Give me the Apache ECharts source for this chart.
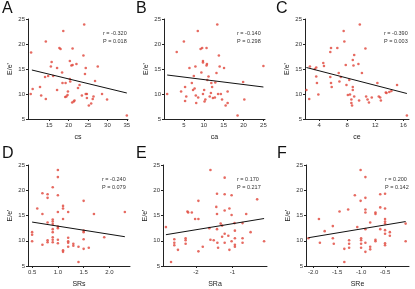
<!DOCTYPE html>
<html>
<head>
<meta charset="utf-8">
<script src="https://cdn.jsdelivr.net/npm/echarts@6/dist/echarts.min.js"></script>
<style>
  html, body { margin: 0; padding: 0; background: #fff; }
  #chart { width: 415px; height: 289px; }
</style>
</head>
<body>
<div id="chart"></div>
<script>
// E/e' against each strain measure, [x, E/e'] per patient
const csPts = [
  [10.3, 18.3], [10.7, 11.0], [10.2, 10.0], [12.6, 11.4], [12.9, 9.7], [14.1, 20.5],
  [14.1, 9.0], [13.9, 13.4], [14.7, 13.6], [15.6, 16.4], [15.4, 15.5], [16.0, 13.6],
  [17.0, 10.8], [17.0, 15.2], [17.6, 19.2], [17.9, 19.0], [18.3, 14.3], [18.4, 12.2],
  [18.6, 22.6], [19.1, 9.4], [19.2, 12.2], [19.4, 9.5], [19.7, 9.8], [19.8, 10.5],
  [20.3, 16.6], [20.3, 13.0], [20.4, 12.5], [20.7, 15.7], [21.0, 15.8], [21.0, 19.1],
  [20.9, 8.3], [21.3, 8.5], [21.5, 8.7], [22.0, 16.0], [22.4, 11.2], [22.8, 11.8],
  [23.4, 9.7], [24.0, 23.9], [23.8, 17.7], [24.2, 14.0], [24.4, 15.2], [24.4, 10.0],
  [24.7, 10.0], [24.7, 9.2], [25.2, 7.7], [25.8, 8.1], [26.2, 9.0], [26.4, 9.5],
  [26.8, 12.6], [27.5, 15.5], [28.6, 10.0], [29.9, 8.9], [35.0, 5.7]
];
const caPts = [
  [0.8, 10.0], [3.2, 18.4], [5.0, 20.5], [4.3, 10.5], [5.3, 11.4], [5.6, 9.5],
  [5.3, 8.6], [6.4, 15.2], [7.0, 12.2], [7.3, 10.8], [7.5, 13.6], [7.7, 11.1],
  [7.9, 15.5], [8.0, 9.7], [8.1, 8.2], [8.5, 22.6], [8.6, 9.3], [9.2, 19.0],
  [9.6, 19.2], [9.4, 14.3], [9.8, 16.6], [9.8, 16.3], [9.8, 10.0], [10.1, 10.8],
  [10.2, 8.5], [10.4, 8.9], [10.7, 19.2], [10.7, 15.7], [10.8, 16.0], [10.9, 12.8],
  [11.2, 13.5], [11.5, 9.5], [11.8, 10.2], [11.9, 12.2], [12.1, 11.4], [12.3, 9.2],
  [12.8, 9.3], [12.9, 12.3], [13.4, 23.9], [13.2, 14.2], [13.6, 10.0], [13.8, 17.7],
  [14.0, 15.5], [14.3, 10.0], [14.6, 8.9], [15.1, 15.2], [15.5, 7.7], [16.0, 8.2],
  [16.0, 10.5], [18.5, 5.7], [19.9, 12.4], [20.2, 8.9], [25.0, 15.6]
];
const cePts = [
  [2.2, 10.8], [2.6, 9.0], [2.7, 15.5], [3.4, 15.0], [3.6, 15.3], [3.6, 13.5],
  [3.7, 12.2], [3.9, 9.9], [4.6, 16.2], [4.7, 15.6], [5.6, 18.4], [5.7, 19.2],
  [5.6, 13.4], [5.7, 12.2], [5.8, 11.4], [6.6, 19.2], [6.8, 14.2], [6.9, 12.5],
  [7.1, 13.4], [7.5, 22.6], [7.6, 20.5], [7.8, 15.8], [7.9, 11.8], [8.1, 9.8],
  [8.3, 12.8], [8.4, 9.9], [8.6, 8.9], [8.6, 8.2], [8.7, 7.7], [8.8, 16.8],
  [8.8, 10.8], [8.8, 11.4], [8.9, 15.7], [9.0, 9.5], [9.0, 17.8], [9.6, 16.0],
  [9.7, 8.7], [9.8, 23.9], [10.1, 14.2], [10.6, 19.1], [10.7, 9.5], [10.9, 8.9],
  [11.1, 8.3], [11.5, 9.3], [12.3, 12.2], [12.5, 9.5], [12.7, 9.3], [12.8, 8.7],
  [13.5, 10.3], [13.6, 10.2], [14.0, 10.4], [14.3, 10.6], [15.1, 11.8], [16.5, 5.7]
];
const srsPts = [
  [0.5, 11.7], [0.5, 11.2], [0.5, 9.9], [0.6, 16.4], [0.7, 19.4], [0.7, 15.3],
  [0.7, 9.2], [0.8, 19.2], [0.8, 18.5], [0.8, 13.6], [0.8, 10.1], [0.8, 9.7],
  [0.9, 20.6], [0.9, 14.2], [0.9, 13.8], [0.9, 13.3], [0.9, 12.3], [0.9, 11.7],
  [0.9, 10.7], [0.9, 10.2], [0.9, 9.7], [1.0, 24.0], [1.0, 22.6], [1.0, 19.0],
  [1.0, 15.7], [1.0, 12.8], [1.0, 12.5], [1.0, 10.2], [1.0, 9.5], [1.1, 16.9],
  [1.1, 16.4], [1.1, 14.3], [1.1, 8.1], [1.1, 7.8], [1.2, 15.7], [1.2, 10.6],
  [1.2, 9.9], [1.2, 9.6], [1.2, 8.8], [1.3, 9.4], [1.3, 9.0], [1.4, 8.8],
  [1.4, 5.8], [1.5, 17.9], [1.5, 12.0], [1.5, 11.7], [1.5, 10.3], [1.5, 8.4],
  [1.6, 8.6], [1.7, 15.3], [1.9, 10.7], [2.3, 15.7]
];
const sraPts = [
  [-2.82, 12.7], [-2.59, 10.3], [-2.59, 9.6], [-2.59, 9.1], [-2.49, 8.2], [-2.68, 5.8],
  [-2.23, 15.8], [-2.21, 15.6], [-2.11, 15.6], [-2.28, 10.5], [-2.28, 10.1], [-2.28, 9.4],
  [-2.02, 14.3], [-1.93, 14.3], [-1.93, 17.9], [-1.93, 7.9], [-1.81, 8.8], [-1.6, 24.0],
  [-1.63, 12.5], [-1.6, 10.2], [-1.51, 10.1], [-1.44, 16.7], [-1.42, 19.3], [-1.42, 15.3],
  [-1.42, 12.3], [-1.41, 9.6], [-1.39, 8.6], [-1.32, 13.4], [-1.28, 13.0], [-1.28, 10.8],
  [-1.21, 22.5], [-1.21, 19.2], [-1.21, 16.0], [-1.21, 11.4], [-1.21, 9.6], [-1.11, 11.0],
  [-1.08, 16.4], [-1.08, 8.2], [-1.02, 19.0], [-1.02, 15.1], [-1.02, 9.9], [-0.94, 13.5],
  [-0.93, 12.0], [-0.93, 10.5], [-0.93, 9.2], [-0.93, 8.8], [-0.72, 13.5], [-0.72, 10.5],
  [-0.72, 9.6], [-0.62, 15.3], [-0.5, 11.7], [-0.32, 18.2], [-0.13, 9.9]
];
const srePts = [
  [-2.1, 10.5], [-1.88, 14.3], [-1.86, 9.6], [-1.76, 11.9], [-1.59, 12.9], [-1.57, 9.4],
  [-1.59, 10.5], [-1.45, 15.8], [-1.35, 8.4], [-1.35, 5.8], [-1.27, 16.2], [-1.25, 10.1],
  [-1.25, 9.4], [-1.25, 8.6], [-1.13, 19.0], [-1.08, 12.7], [-1.01, 24.0], [-1.01, 17.9],
  [-1.0, 10.5], [-1.0, 10.1], [-1.0, 9.4], [-1.0, 8.6], [-0.91, 22.6], [-0.91, 18.5],
  [-0.91, 16.2], [-0.91, 15.6], [-0.91, 12.3], [-0.91, 9.6], [-0.91, 7.8], [-0.81, 13.6],
  [-0.81, 8.8], [-0.81, 8.3], [-0.7, 15.6], [-0.7, 15.3], [-0.7, 10.2], [-0.7, 9.9],
  [-0.6, 19.2], [-0.6, 16.6], [-0.6, 12.3], [-0.5, 19.3], [-0.5, 16.4], [-0.5, 14.3],
  [-0.5, 13.8], [-0.5, 13.4], [-0.5, 12.1], [-0.5, 11.4], [-0.5, 9.5], [-0.5, 9.1],
  [-0.4, 11.7], [-0.4, 11.0], [-0.07, 13.4], [-0.07, 9.9]
];

// fitted line ends
const fitLines = [
  [[10.5, 14.8], [35.0, 10.2]],
  [[0.8, 13.8], [25.0, 11.4]],
  [[2.2, 15.3], [16.5, 10.1]],
  [[0.5, 13.7], [2.3, 10.8]],
  [[-2.82, 11.2], [-0.13, 14.4]],
  [[-2.1, 10.6], [-0.07, 13.8]]
];

const panelLetters = ['A', 'B', 'C', 'D', 'E', 'F'];
const xNames = ['cs', 'ca', 'ce', 'SRs', 'SRa', 'SRe'];
const rTexts = ['r = -0.320', 'r = -0.140', 'r = -0.390', 'r = -0.240', 'r = 0.170', 'r = 0.200'];
const pTexts = ['P = 0.018', 'P = 0.298', 'P = 0.003', 'P = 0.079', 'P = 0.217', 'P = 0.142'];
const xTicks = [
  [15, 20, 25, 30, 35],
  [5, 10, 15, 20, 25],
  [4, 8, 12, 16],
  [0.5, 1.0, 1.5, 2.0],
  [-2, -1],
  [-2.0, -1.5, -1.0, -0.5]
];
const xLabelDigits = [0, 0, 0, 1, 0, 1];
const xRanges = [[9.5, 35.3], [0, 25.4], [2, 16.8], [0.42, 2.4], [-2.9, -0.05], [-2.15, 0]];
const yTicks = [5, 10, 15, 20, 25];
const allPts = [csPts, caPts, cePts, srsPts, sraPts, srePts];

// pixel layout of the 2x3 grid
const boxes = [
  { left: 28, top: 19, width: 100, height: 100 },
  { left: 164, top: 19, width: 101, height: 100 },
  { left: 305, top: 19, width: 104, height: 100 },
  { left: 28, top: 165, width: 102, height: 102 },
  { left: 163, top: 165, width: 104, height: 102 },
  { left: 306, top: 165, width: 103, height: 102 }
];
const letterPos = [[2, 1], [136, 1], [276, 1], [2, 146], [136, 146], [277, 146]];
const statPos = [[103, 34], [237, 34], [384, 34], [102, 180], [237, 180], [385, 180]];

const axisColor = '#222';
const labelFont = { fontFamily: 'Liberation Sans', fontSize: 6, color: '#333' };

const chart = echarts.init(document.getElementById('chart'), null, { renderer: 'canvas' });

const grid = boxes.map(b => Object.assign({ containLabel: false }, b));

const xAxis = boxes.map((b, i) => ({
  type: 'value',
  gridIndex: i,
  min: xRanges[i][0],
  max: xRanges[i][1],
  name: xNames[i],
  nameLocation: 'middle',
  nameGap: 15,
  nameTextStyle: { fontFamily: 'Liberation Sans', fontSize: 7, color: '#222' },
  axisLine: { show: true, onZero: false, lineStyle: { color: axisColor, width: 1 } },
  axisTick: { show: true, length: 2, customValues: xTicks[i], lineStyle: { color: axisColor } },
  axisLabel: Object.assign({
    margin: 3,
    customValues: xTicks[i],
    formatter: v => Number(v).toFixed(xLabelDigits[i])
  }, labelFont),
  splitLine: { show: false }
}));

const yAxis = boxes.map((b, i) => ({
  type: 'value',
  gridIndex: i,
  min: 5,
  max: 25,
  interval: 5,
  name: "E/e'",
  nameLocation: 'middle',
  nameGap: 14,
  nameRotate: 90,
  nameTextStyle: { fontFamily: 'Liberation Sans', fontSize: 7, color: '#222' },
  axisLine: { show: true, onZero: false, lineStyle: { color: axisColor, width: 1 } },
  axisTick: { show: true, length: 2, lineStyle: { color: axisColor } },
  axisLabel: Object.assign({ margin: 3 }, labelFont),
  splitLine: { show: false }
}));

const series = [];
allPts.forEach((pts, i) => {
  series.push({
    type: 'scatter',
    xAxisIndex: i,
    yAxisIndex: i,
    data: pts,
    symbol: 'circle',
    symbolSize: 2.6,
    itemStyle: { color: '#e0453a' },
    silent: true
  });
  series.push({
    type: 'line',
    xAxisIndex: i,
    yAxisIndex: i,
    data: fitLines[i],
    showSymbol: false,
    lineStyle: { color: '#111', width: 1 },
    z: 3,
    silent: true
  });
});

const graphic = [];
panelLetters.forEach((t, i) => {
  graphic.push({
    type: 'text',
    left: letterPos[i][0],
    top: letterPos[i][1],
    style: { text: t, fontFamily: 'Liberation Sans', fontSize: 16, fill: '#111' }
  });
  graphic.push({
    type: 'text',
    left: statPos[i][0],
    top: statPos[i][1] - 4,
    style: {
      text: rTexts[i] + '\n' + pTexts[i],
      fontFamily: 'Liberation Sans',
      fontSize: 5.5,
      lineHeight: 7.5,
      fill: '#333'
    }
  });
});

chart.setOption({
  animation: false,
  backgroundColor: '#fff',
  tooltip: { show: false },
  grid: grid,
  xAxis: xAxis,
  yAxis: yAxis,
  series: series,
  graphic: graphic
});

window.addEventListener('resize', () => chart.resize());
</script>
</body>
</html>
